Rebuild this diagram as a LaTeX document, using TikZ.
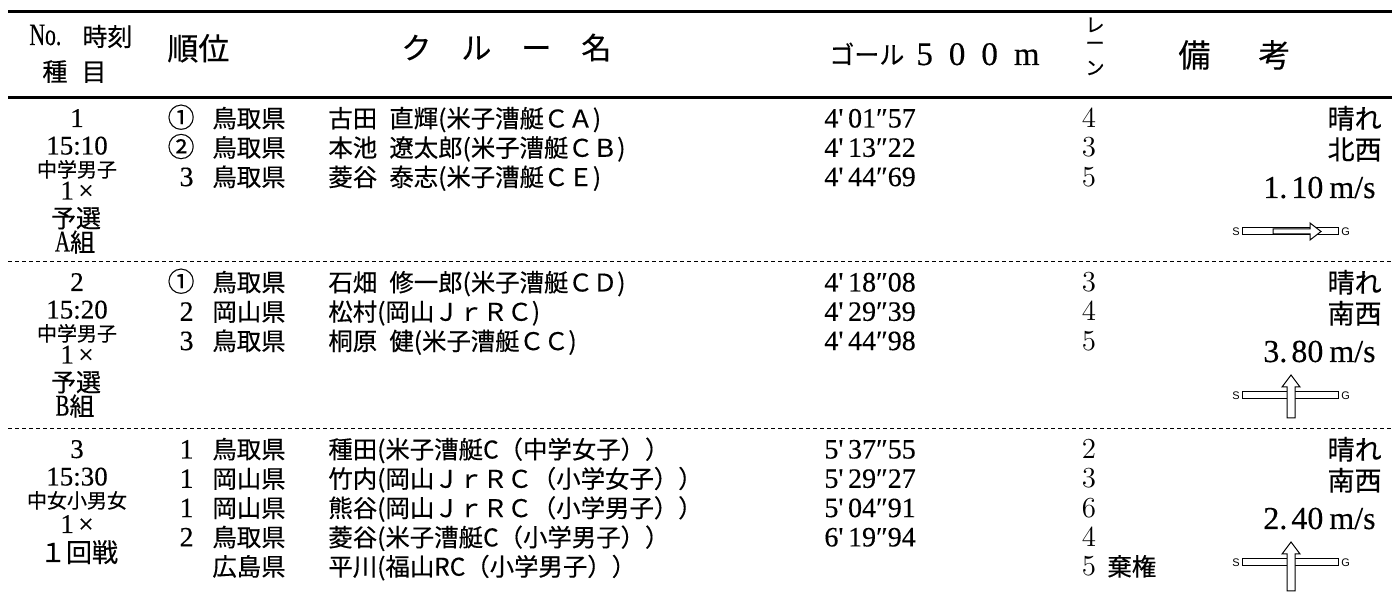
\documentclass[tikz,border=0pt]{standalone}
\usepackage{fontspec}
\newfontfamily\jp{Noto Sans CJK JP}[FakeBold=0.4]
\newfontfamily\sr{Liberation Serif}[FakeBold=0.3]
\newfontfamily\srn{Liberation Serif}[FakeStretch=0.7,FakeBold=0.3]
\newfontfamily\gs{Liberation Sans}
\newcommand\sep{\hspace{0.5em}}
\tikzset{
  rule/.style={line width=1.5pt},
  dl/.style={line width=0.5pt, dash pattern=on 2pt off 1.5pt},
  hdj/.style={inner sep=0pt, anchor=base west, font=\jp\fontsize{12.5}{14}\selectfont},
  hdb/.style={inner sep=0pt, anchor=base west, font=\jp\fontsize{15.5}{17}\selectfont},
  vk/.style={inner sep=0pt, anchor=center, font=\jp\fontsize{9.5}{10}\selectfont},
  lcn/.style={inner sep=0pt, anchor=base, font=\sr\fontsize{13.5}{15}\selectfont},
  lcc/.style={inner sep=0pt, anchor=base, font=\jp\fontsize{10}{12}\selectfont},
  lcb/.style={inner sep=0pt, anchor=base, font=\jp\fontsize{12.5}{14}\selectfont},
  rkd/.style={inner sep=0pt, anchor=base east, font=\sr\fontsize{14}{16}\selectfont},
  rkc/.style={inner sep=0pt, anchor=base east, font=\jp\fontsize{13.5}{15}\selectfont},
  nm/.style={inner sep=0pt, anchor=base west, font=\jp\fontsize{12.2}{14}\selectfont},
  tmst/.style={inner sep=0pt, anchor=base west, font=\sr\fontsize{14}{16}\selectfont},
  lane/.style={inner sep=0pt, anchor=base, font=\fontsize{14.5}{16}\selectfont},
  wx/.style={inner sep=0pt, anchor=base east, font=\jp\fontsize{13.5}{15}\selectfont},
  ws/.style={inner sep=0pt, anchor=base east, font=\sr\fontsize{16}{18}\selectfont},
  sg/.style={inner sep=0pt, font=\gs\fontsize{5.5}{6}\selectfont},
  sgbox/.style={draw, line width=0.5pt, fill=white},
  arr/.style={draw, line width=0.5pt, fill=white, line join=miter}
}
\begin{document}
\begin{tikzpicture}[x=0.5pt,y=-0.5pt]
\useasboundingbox (0,0) rectangle (1392,592);
% rules
\coordinate (r0a) at (8,12);  \coordinate (r0b) at (1392,12);
\coordinate (r1a) at (8,98);  \coordinate (r1b) at (1392,98);
\coordinate (d1a) at (8,262); \coordinate (d1b) at (1392,262);
\coordinate (d2a) at (8,429); \coordinate (d2b) at (1392,429);
\draw[rule] (r0a) -- (r0b);
\draw[rule] (r1a) -- (r1b);
\draw[dl] (d1a) -- (d1b);
\draw[dl] (d2a) -- (d2b);
% header
\node[hdj, font=\srn\fontsize{15.5}{16}\selectfont] (hno) at (29,45) {No.};
\node[hdj] (hjk) at (82,46) {時刻};
\node[hdj] (hsm) at (42,81) {種\hspace{7pt}目};
\node[hdb] (hjn) at (167,60) {順位};
\node[hdb, font=\jp\fontsize{15}{17}\selectfont] (hcr) at (401,59) {ク　ル　ー　名};
\node[hdj, font=\jp\fontsize{12.5}{14}\selectfont] (hgl) at (829,64) {ゴール};
\node[hdj, font=\sr\fontsize{16.5}{18}\selectfont] (h500) at (916,65) {5\hspace{8pt}0\hspace{8pt}0\hspace{8pt}m};
\node[vk] (hl1) at (1095,25) {レ};
\node[vk] (hl2) at (1095,46) {ー};
\node[vk] (hl3) at (1095,68) {ン};
\node[hdb, font=\jp\fontsize{16}{18}\selectfont] (hbk) at (1178,67) {備\hspace{24pt}考};
% ===== row 1 =====
\node[lcn] (n1) at (77,127) {1};
\node[lcn] (t1) at (77,154.5) {15:10};
\node[lcc] (c1) at (77,177) {中学男子};
\node[lcn] (x1) at (77,199.5) {1\,×};
\node[lcb] (p1) at (76,227.5) {予選};
\node[lcb] (g1) at (75,251.5) {{\srn\fontsize{15}{16}\selectfont A}組};
\node[rkc] (a11) at (195,127.5) {①};
\node[rkc] (a12) at (195,156.8) {②};
\node[rkd] (a13) at (194,186.1) {3};
\node[nm] (b11) at (212,127.5) {鳥取県};
\node[nm] (b12) at (212,156.8) {鳥取県};
\node[nm] (b13) at (212,186.1) {鳥取県};
\node[nm] (c11) at (328,127.5) {古田\sep 直輝(米子漕艇ＣＡ)};
\node[nm] (c12) at (328,156.8) {本池\sep 遼太郎(米子漕艇ＣＢ)};
\node[nm] (c13) at (328,186.1) {菱谷\sep 泰志(米子漕艇ＣＥ)};
\node[tmst] (d11) at (824,127.5) {4'\,01″57};
\node[tmst] (d12) at (824,156.8) {4'\,13″22};
\node[tmst] (d13) at (824,186.1) {4'\,44″69};
\node[lane] (e11) at (1089,127.5) {4};
\node[lane] (e12) at (1089,156.8) {3};
\node[lane] (e13) at (1089,186.1) {5};
\node[wx] (w11) at (1382,128.5) {晴れ};
\node[wx] (w12) at (1382,159.5) {北西};
\node[ws] (w13) at (1376,198) {1.\hspace{2pt}10\hspace{3pt}m/s};
\node[sg, anchor=east] (s1) at (1240,231.5) {S};
\node[sg, anchor=west] (gg1) at (1341,231.5) {G};
\draw[sgbox] (1242,228) rectangle (1338,235);
\draw[arr] (1273,229) -- (1310,229) -- (1310,223) -- (1321,231.5) -- (1310,240) -- (1310,234) -- (1273,234) -- cycle;
% ===== row 2 =====
\node[lcn] (n2) at (77,291) {2};
\node[lcn] (t2) at (77,318.5) {15:20};
\node[lcc] (c2) at (77,341) {中学男子};
\node[lcn] (x2) at (77,363.5) {1\,×};
\node[lcb] (p2) at (76,391.5) {予選};
\node[lcb] (g2) at (75,415.5) {{\srn\fontsize{15}{16}\selectfont B}組};
\node[rkc] (a21) at (195,291.5) {①};
\node[rkd] (a22) at (194,320.8) {2};
\node[rkd] (a23) at (194,350.1) {3};
\node[nm] (b21) at (212,291.5) {鳥取県};
\node[nm] (b22) at (212,320.8) {岡山県};
\node[nm] (b23) at (212,350.1) {鳥取県};
\node[nm] (c21) at (328,291.5) {石畑\sep 修一郎(米子漕艇ＣＤ)};
\node[nm] (c22) at (328,320.8) {松村(岡山ＪｒＲＣ)};
\node[nm] (c23) at (328,350.1) {桐原\sep 健(米子漕艇ＣＣ)};
\node[tmst] (d21) at (824,291.5) {4'\,18″08};
\node[tmst] (d22) at (824,320.8) {4'\,29″39};
\node[tmst] (d23) at (824,350.1) {4'\,44″98};
\node[lane] (e21) at (1089,291.5) {3};
\node[lane] (e22) at (1089,320.8) {4};
\node[lane] (e23) at (1089,350.1) {5};
\node[wx] (w21) at (1382,292.5) {晴れ};
\node[wx] (w22) at (1382,323.5) {南西};
\node[ws] (w23) at (1376,362) {3.\hspace{2pt}80\hspace{3pt}m/s};
\node[sg, anchor=east] (s2) at (1240,395.5) {S};
\node[sg, anchor=west] (gg2) at (1341,395.5) {G};
\draw[sgbox] (1242,392) rectangle (1338,399);
\draw[arr] (1287,418) -- (1287,387) -- (1282,387) -- (1291,375) -- (1300,387) -- (1295,387) -- (1295,418) -- cycle;
% ===== row 3 =====
\node[lcn] (n3) at (77,458) {3};
\node[lcn] (t3) at (77,485.5) {15:30};
\node[lcc] (c3) at (77,508) {中女小男女};
\node[lcn] (x3) at (77,533) {1\,×};
\node[lcb, font=\jp\fontsize{13}{15}\selectfont] (p3) at (79,562) {１回戦};
\node[rkd] (a31) at (194,458.5) {1};
\node[rkd] (a32) at (194,487.8) {1};
\node[rkd] (a33) at (194,517.1) {1};
\node[rkd] (a34) at (194,546.4) {2};
\node[nm] (b31) at (212,458.5) {鳥取県};
\node[nm] (b32) at (212,487.8) {岡山県};
\node[nm] (b33) at (212,517.1) {岡山県};
\node[nm] (b34) at (212,546.4) {鳥取県};
\node[nm] (b35) at (212,575.7) {広島県};
\node[nm] (c31) at (328,458.5) {種田(米子漕艇C（中学女子））};
\node[nm] (c32) at (328,487.8) {竹内(岡山ＪｒＲＣ（小学女子））};
\node[nm] (c33) at (328,517.1) {熊谷(岡山ＪｒＲＣ（小学男子））};
\node[nm] (c34) at (328,546.4) {菱谷(米子漕艇C（小学男子））};
\node[nm] (c35) at (328,575.7) {平川(福山RC（小学男子））};
\node[tmst] (d31) at (824,458.5) {5'\,37″55};
\node[tmst] (d32) at (824,487.8) {5'\,29″27};
\node[tmst] (d33) at (824,517.1) {5'\,04″91};
\node[tmst] (d34) at (824,546.4) {6'\,19″94};
\node[lane] (e31) at (1089,458.5) {2};
\node[lane] (e32) at (1089,487.8) {3};
\node[lane] (e33) at (1089,517.1) {6};
\node[lane] (e34) at (1089,546.4) {4};
\node[lane] (e35) at (1089,575.7) {5};
\node[nm] (k35) at (1107,575.7) {棄権};
\node[wx] (w31) at (1382,459.5) {晴れ};
\node[wx] (w32) at (1382,490.5) {南西};
\node[ws] (w33) at (1376,529) {2.\hspace{2pt}40\hspace{3pt}m/s};
\node[sg, anchor=east] (s3) at (1240,562.5) {S};
\node[sg, anchor=west] (gg3) at (1341,562.5) {G};
\draw[sgbox] (1242,559) rectangle (1338,566);
\draw[arr] (1287,591) -- (1287,554) -- (1282,554) -- (1291,542) -- (1300,554) -- (1295,554) -- (1295,591) -- cycle;
\end{tikzpicture}
\end{document}
